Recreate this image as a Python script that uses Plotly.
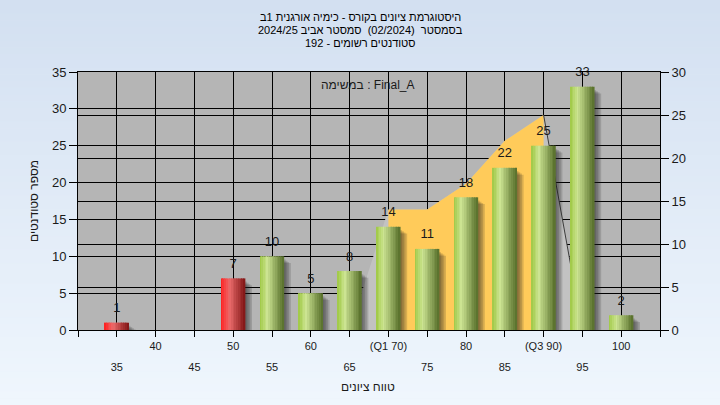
import plotly.graph_objects as go
import numpy as np

# ---------------- data ----------------
grades = [35, 40, 45, 50, 55, 60, 65, 70, 75, 80, 85, 90, 95, 100]
students = [1, 0, 0, 7, 10, 5, 8, 14, 11, 18, 22, 25, 33, 2]
pass_grade = 55

# quartile band (right axis)
band_x = [65, 70, 75, 80, 85, 90, 95]
band_y = [0, 14, 14, 17, 22, 25, 0]
q1, q3 = 70, 90

top_tick_vals = [40, 50, 60, 70, 80, 90, 100]
top_tick_text = ["40", "50", "60", "(Q1 70)", "80", "(Q3 90)", "100"]
bottom_tick_vals = [35, 45, 55, 65, 75, 85, 95]
bottom_tick_text = ["35", "45", "55", "65", "75", "85", "95"]

title_lines = [
    "היסטוגרמת ציונים בקורס - כימיה אורגנית 1ב",
    "בסמסטר  (02/2024)  סמסטר אביב 2024/25",
    "סטודנטים רשומים - 192",
]
task_text = "במשימה : Final_A"
y_title = "מספר סטודנטים"
x_title = "טווח ציונים"

# ---------------- layout constants ----------------
W, H = 720, 405
ML, MR, MT, MB = 78, 60, 72, 75
PW, PH = W - ML - MR, H - MT - MB
X0, X1 = 30, 105
YL, YR = 35, 30
FONT = "Liberation Sans, Arial, sans-serif"
TXT = "#1a1a1a"

px_x = (X1 - X0) / PW
px_yl = YL / PH

bar_w = 24 * px_x
n_str = 14

green_stops = [(0.0, (158, 200, 66)), (0.32, (204, 228, 146)), (1.0, (86, 110, 42))]
red_stops = [(0.0, (255, 28, 28)), (0.36, (236, 108, 108)), (1.0, (128, 20, 20))]


def interp(stops, t):
    for (t0, c0), (t1, c1) in zip(stops[:-1], stops[1:]):
        if t <= t1:
            f = (t - t0) / (t1 - t0)
            return "rgb(%d,%d,%d)" % tuple(round(a + (b - a) * f) for a, b in zip(c0, c1))
    return "rgb(%d,%d,%d)" % stops[-1][1]


fig = go.Figure()

# ---- quartile band on the right axis (main y) ----
fig.add_trace(go.Scatter(
    x=band_x, y=band_y, mode="lines", line=dict(width=0),
    fill="tozeroy", fillcolor="rgb(194,194,194)", hoverinfo="skip",
    xaxis="x", yaxis="y", showlegend=False))
inner = [(bx, by) for bx, by in zip(band_x, band_y) if q1 <= bx <= q3]
fig.add_trace(go.Scatter(
    x=[p[0] for p in inner], y=[p[1] for p in inner], mode="lines",
    line=dict(width=0), fill="tozeroy", fillcolor="rgb(255,203,90)",
    hoverinfo="skip", xaxis="x", yaxis="y", showlegend=False))
tail = [(bx, by) for bx, by in zip(band_x, band_y) if bx >= q3]
fig.add_trace(go.Scatter(
    x=[p[0] for p in tail], y=[p[1] for p in tail], mode="lines",
    line=dict(width=1, color="rgb(60,60,60)"), hoverinfo="skip",
    xaxis="x", yaxis="y", showlegend=False))

# dummy trace to anchor the second label row axis
fig.add_trace(go.Scatter(x=[grades[0]], y=[0], mode="markers",
                         marker=dict(opacity=0), hoverinfo="skip",
                         xaxis="x2", yaxis="y", showlegend=False))

# ---- bar shadows (left axis) ----
for k in range(1, 5):
    dx = k * 1.7 * px_x
    dy = (2 + k * 1.2) * px_yl
    base = -0.4
    ys = [(v - dy - base) if v > 0 else None for v in students]
    fig.add_trace(go.Bar(
        x=grades, y=ys, base=base, width=bar_w, offset=-bar_w / 2 + dx,
        marker=dict(color="rgba(30,30,30,0.17)", line=dict(width=0)),
        hoverinfo="skip", xaxis="x", yaxis="y2", showlegend=False))

# ---- cylinder-look bars via stripes ----
sw = bar_w / n_str
for i in range(n_str):
    t = (i + 0.5) / n_str
    cols = [interp(red_stops if g < pass_grade else green_stops, t) for g in grades]
    fig.add_trace(go.Bar(
        x=grades, y=students, width=sw + 0.02, offset=-bar_w / 2 + i * sw,
        marker=dict(color=cols, line=dict(width=0)),
        hoverinfo="skip", xaxis="x", yaxis="y2", showlegend=False))

# ---- value labels ----
fig.add_trace(go.Scatter(
    x=grades, y=students, mode="markers+text",
    text=[str(v) if v > 0 else "" for v in students],
    textposition="top center", marker=dict(size=10, color="rgba(0,0,0,0)"),
    textfont=dict(family=FONT, size=13, color=TXT), cliponaxis=False,
    hoverinfo="skip", xaxis="x", yaxis="y2", showlegend=False))

# ---- background gradient (paper) + plot area ----
shapes = []
nb = 60
top_c = np.array([211, 224, 241])
bot_c = np.array([239, 246, 253])
y_lo, y_hi = -MB / PH, 1 + MT / PH
for j in range(nb):
    f = j / (nb - 1)
    c = top_c + (bot_c - top_c) * f
    ya = y_hi - (y_hi - y_lo) * j / nb
    yb = y_hi - (y_hi - y_lo) * (j + 1) / nb
    shapes.append(dict(type="rect", xref="paper", yref="paper",
                       x0=-ML / PW, x1=1 + MR / PW, y0=yb - 0.002, y1=ya,
                       fillcolor="rgb(%d,%d,%d)" % tuple(c.round()),
                       line=dict(width=0), layer="below"))
shapes.append(dict(type="rect", xref="paper", yref="paper", x0=0, x1=1, y0=0, y1=1,
                   fillcolor="rgb(181,181,181)", line=dict(width=0), layer="below"))

annotations = []
for line, yp in zip(title_lines, [17, 30, 42.5]):
    annotations.append(dict(text=line, xref="paper", yref="paper",
                            x=(360 - ML) / PW, y=(MT + PH - yp) / PH,
                            xanchor="center", yanchor="middle", showarrow=False,
                            font=dict(family=FONT, size=11, color="black")))
annotations.append(dict(text=task_text, xref="paper", yref="paper",
                        x=(368 - ML) / PW, y=(MT + PH - 85) / PH,
                        xanchor="center", yanchor="middle", showarrow=False,
                        font=dict(family=FONT, size=12, color=TXT)))
annotations.append(dict(text=y_title, xref="paper", yref="paper",
                        x=(34 - ML) / PW, y=0.5, textangle=-90,
                        xanchor="center", yanchor="middle", showarrow=False,
                        font=dict(family=FONT, size=12, color=TXT)))
annotations.append(dict(text=x_title, xref="paper", yref="paper",
                        x=(368 - ML) / PW, y=(MT + PH - 387) / PH,
                        xanchor="center", yanchor="middle", showarrow=False,
                        font=dict(family=FONT, size=12, color=TXT)))

all_ticks = list(range(X0, X1 + 1, 5))
tick_text = [top_tick_text[top_tick_vals.index(v)] if v in top_tick_vals else "" for v in all_ticks]

fig.update_layout(
    width=W, height=H,
    margin=dict(l=ML, r=MR, t=MT, b=MB, pad=0),
    paper_bgcolor="rgb(225,235,247)", plot_bgcolor="rgba(0,0,0,0)",
    barmode="overlay", showlegend=False,
    shapes=shapes, annotations=annotations,
    font=dict(family=FONT, color=TXT),
    xaxis=dict(range=[X0, X1], tickmode="array", tickvals=all_ticks, ticktext=tick_text,
               ticks="outside", ticklen=6, tickcolor="black", showgrid=True,
               gridcolor="black", gridwidth=1, showline=True, linecolor="black",
               linewidth=1, mirror=True, zeroline=False,
               tickfont=dict(family=FONT, size=11, color=TXT)),
    xaxis2=dict(range=[X0, X1], overlaying="x", anchor="y", side="bottom",
                tickmode="array", tickvals=bottom_tick_vals, ticktext=bottom_tick_text,
                ticks="", showgrid=False, showline=False, zeroline=False,
                ticklabelstandoff=29,
                tickfont=dict(family=FONT, size=11, color=TXT)),
    yaxis=dict(range=[0, YR], side="right", tickmode="linear", tick0=0, dtick=5,
               ticks="outside", ticklen=8, tickcolor="black", showgrid=True,
               gridcolor="black", gridwidth=1, showline=True, linecolor="black",
               zeroline=False, tickfont=dict(family=FONT, size=13, color=TXT)),
    yaxis2=dict(range=[0, YL], side="left", overlaying="y", tickmode="linear",
                tick0=0, dtick=5, ticks="outside", ticklen=8, tickcolor="black",
                showgrid=True, gridcolor="black", gridwidth=1, showline=True,
                linecolor="black", zeroline=False,
                tickfont=dict(family=FONT, size=13, color=TXT)),
)

fig.write_html("out.html", config={"displayModeBar": False},
               post_script="document.body.style.margin='0';document.body.style.padding='0';")
